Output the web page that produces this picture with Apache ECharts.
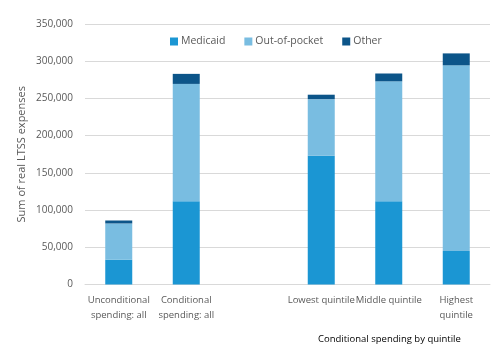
<!DOCTYPE html>
<html><head><meta charset="utf-8">
<script src="https://cdn.jsdelivr.net/npm/echarts@6/dist/echarts.min.js"></script>
<style>html,body{margin:0;padding:0;background:#fff}#c{width:496px;height:356px}</style>
</head><body><div id="c"></div>
<script>
const categories = ['Unconditional\nspending: all', 'Conditional\nspending: all', '', 'Lowest quintile', 'Middle quintile', 'Highest\nquintile'];
const medicaid = [33500, 112000, null, 173000, 112000, 45000];
const outOfPocket = [48500, 157500, null, 76000, 161000, 249500];
const other = [4000, 13500, null, 6000, 10500, 16000];
const yTicks = [0, 50000, 100000, 150000, 200000, 250000, 300000, 350000];
const seriesNames = ['Medicaid', 'Out-of-pocket', 'Other'];
const colors = ['#1b96d3', '#79bde1', '#0c5589'];

const font = 'Open Sans';
const chart = echarts.init(document.getElementById('c'), null, {renderer: 'canvas'});
const mk = (name, data, color) => ({
  name, type: 'bar', stack: 'total', data, barWidth: 27,
  itemStyle: {color}, emphasis: {disabled: true}
});
chart.setOption({
  animation: false,
  textStyle: {fontFamily: font},
  grid: {left: 85, right: 6, top: 24, bottom: 71.5},
  legend: {
    left: 165, top: 31, itemWidth: 8, itemHeight: 8, itemGap: 19,
    icon: 'rect',
    textStyle: {fontFamily: font, fontSize: 10.5, color: '#595959', padding: [0,0,0,-2]},
    data: seriesNames
  },
  xAxis: {
    type: 'category', data: categories,
    axisLine: {lineStyle: {color: '#d9d9d9'}},
    axisTick: {show: false},
    axisLabel: {interval: 0, color: '#595959', fontSize: 9.5, fontFamily: font, lineHeight: 15, margin: 8}
  },
  yAxis: {
    type: 'value', min: 0, max: yTicks[yTicks.length-1], interval: 50000,
    name: 'Sum of real LTSS expenses', nameLocation: 'middle', nameGap: 58,
    nameMoveOverlap: false,
    nameTextStyle: {color: '#595959', fontSize: 11, fontFamily: font},
    axisLine: {show: false}, axisTick: {show: false},
    splitLine: {lineStyle: {color: '#d9d9d9'}},
    axisLabel: {color: '#595959', fontSize: 10, fontFamily: font, margin: 12,
      formatter: v => v.toLocaleString('en-US')}
  },
  graphic: [{
    type: 'text', left: 318, top: 334,
    style: {text: 'Conditional spending by quintile', fill: '#000', fontSize: 9.5, fontFamily: font}
  }],
  series: [mk(seriesNames[0], medicaid, colors[0]), mk(seriesNames[1], outOfPocket, colors[1]), mk(seriesNames[2], other, colors[2])]
});
</script></body></html>
